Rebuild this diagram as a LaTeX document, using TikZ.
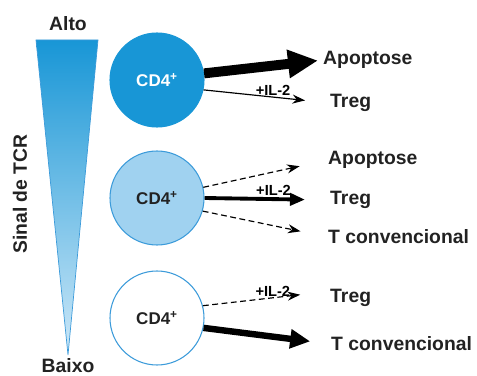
\documentclass[tikz,border=0pt]{standalone}
\usepackage{fontspec}
\setmainfont{Liberation Sans}
\usetikzlibrary{arrows.meta, positioning, shapes.geometric}
\definecolor{tcrblue}{RGB}{24,150,214}
\definecolor{tcrmid}{RGB}{160,210,240}
\definecolor{tcrline}{RGB}{60,155,218}
\definecolor{tcrpale}{RGB}{205,232,248}
\definecolor{labeltext}{RGB}{34,34,34}
\tikzset{
  cell/.style={circle, minimum size=2.82cm, draw=tcrline, line width=0.9pt, inner sep=0pt,
    font=\fontsize{14.5}{16}\selectfont\bfseries},
  fate/.style={anchor=west, inner sep=0pt, text=labeltext,
    font=\fontsize{16.5}{18}\selectfont\bfseries},
  il/.style={above, inner sep=1pt, font=\fontsize{12.5}{13}\selectfont\bfseries},
  strong/.style={-{Triangle[length=0.9cm, width=0.8cm]}, line width=8.5pt},
  medium/.style={-{Triangle[length=0.6cm, width=0.55cm]}, line width=5.5pt},
  weak/.style={-{Triangle[length=0.45cm, width=0.36cm]}, line width=3.3pt},
  faint/.style={-{Stealth[length=0.38cm, width=0.27cm]}, line width=1pt},
  maybe/.style={faint, dash pattern=on 5pt off 3pt}
}
\begin{document}
\begin{tikzpicture}[x=0.03cm, y=-0.03cm]
\useasboundingbox (0,0) rectangle (477,376);
% TCR signal wedge
\shade[top color=tcrblue, bottom color=tcrpale] (36,40) -- (98,40) -- (68,355) -- cycle;
\draw[tcrline, line width=0.6pt] (36,40) -- (98,40) -- (68,355) -- cycle;
\node (alto) [font=\fontsize{16.5}{18}\selectfont\bfseries, text=labeltext] at (68,24) {Alto};
\node (baixo) [font=\fontsize{16.5}{18}\selectfont\bfseries, text=labeltext] at (68,366) {Baixo};
\node (sinal) [rotate=90, font=\fontsize{16.5}{18}\selectfont\bfseries, text=labeltext] at (20,194) {Sinal de TCR};
% cells
\node (cellA) [cell, fill=tcrblue, draw=tcrblue, text=white] at (157,80) {CD4\textsuperscript{+}};
\node (cellB) [cell, fill=tcrmid, text=labeltext] at (157,198) {CD4\textsuperscript{+}};
\node (cellC) [cell, fill=white, text=labeltext] at (157,318) {CD4\textsuperscript{+}};
% fates
\node (apoA) [fate] at (323,60) {Apoptose};
\node (tregA) [fate] at (330,103) {Treg};
\node (apoB) [fate] at (328,160) {Apoptose};
\node (tregB) [fate] at (330,200) {Treg};
\node (convB) [fate] at (328,237) {T convencional};
\node (tregC) [fate] at (330,298) {Treg};
\node (convC) [fate] at (331,344) {T convencional};
% arrows
\draw[strong, shorten >=0.15cm] (cellA.8) -- (apoA.west);
\draw[faint, shorten >=0.75cm] (cellA.-12) -- node[il, pos=0.55] {+IL-2} (tregA.west);
\draw[maybe, shorten >=0.87cm] (cellB.13) -- (apoB.west);
\draw[weak, shorten >=0.75cm] (cellB.east) -- node[il, pos=0.55] {+IL-2} (tregB.west);
\draw[maybe, shorten >=0.84cm] (cellB.-16) -- (convB.west);
\draw[maybe, shorten >=0.9cm] (cellC.15) -- node[il, pos=0.55] {+IL-2} ([yshift=0.2cm]tregC.west);
\draw[medium, shorten >=0.63cm] (cellC.-12) -- (convC.west);
\end{tikzpicture}
\end{document}
